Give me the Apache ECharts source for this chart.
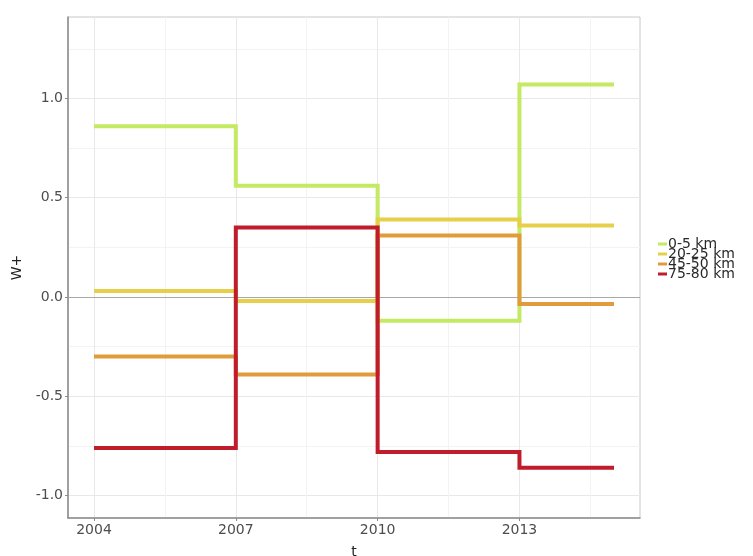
<!DOCTYPE html>
<html>
<head>
<meta charset="utf-8">
<script src="https://cdn.jsdelivr.net/npm/echarts@6/dist/echarts.min.js"></script>
<style>
html,body{margin:0;padding:0;background:#fff;}
#chart{width:753px;height:556px;}
</style>
</head>
<body>
<div id="chart"></div>
<script>
// ---- data ----
var years = [2004, 2007, 2010, 2013, 2015];
var seriesNames = ['0-5 km', '20-25 km', '45-50 km', '75-80 km'];
var km0_5   = [0.86, 0.56, -0.12, 1.07, 1.07];
var km20_25 = [0.03, -0.02, 0.39, 0.36, 0.36];
var km45_50 = [-0.30, -0.39, 0.31, -0.035, -0.035];
var km75_80 = [-0.76, 0.35, -0.78, -0.86, -0.86];
var xTicks = [2004, 2007, 2010, 2013];
var xMinor = [2005.5, 2008.5, 2011.5, 2014.5];
var yTicks = [-1.0, -0.5, 0.0, 0.5, 1.0];
var yMinor = [-0.75, -0.25, 0.25, 0.75, 1.25];
var colors = ['#c3ea62', '#e6d04a', '#e09c3c', '#c01d2c'];

var allValues = [km0_5, km20_25, km45_50, km75_80];

function pairs(vals) {
  return years.map(function (y, i) { return [y, vals[i]]; });
}

var chart = echarts.init(document.getElementById('chart'), null, {renderer: 'canvas'});
var font = 'DejaVu Sans';
var xMin = 2003.45, xMax = 2015.55, yMin = -1.113, yMax = 1.41;

var series = allValues.map(function (vals, i) {
  return {
    name: seriesNames[i],
    type: 'line',
    step: 'end',
    data: pairs(vals),
    showSymbol: false,
    symbol: 'none',
    lineStyle: {color: colors[i], width: 4, cap: 'butt', join: 'miter'},
    itemStyle: {color: colors[i]},
    z: 3 + i,
    silent: true
  };
});
// zero reference line
series.unshift({
  type: 'line',
  data: [],
  silent: true,
  z: 2,
  markLine: {
    silent: true,
    symbol: 'none',
    label: {show: false},
    lineStyle: {color: '#a8a8a8', width: 1, type: 'solid'},
    data: [{yAxis: 0}]
  }
});

chart.setOption({
  animation: false,
  backgroundColor: '#fff',
  grid: {left: 68, top: 17, width: 572, height: 501, containLabel: false,
         outerBoundsMode: 'none',
         show: true, borderColor: '#c8c8c8', borderWidth: 1},
  legend: {
    orient: 'vertical',
    left: 658, top: 237,
    itemWidth: 9, itemHeight: 3, itemGap: -4,
    icon: 'rect',
    data: seriesNames,
    textStyle: {fontFamily: font, fontSize: 14, color: '#2a2a2a', lineHeight: 12, padding: [0, 0, 0, -4]},
    padding: 0
  },
  xAxis: [{
    type: 'value', min: xMin, max: xMax,
    name: 't', nameLocation: 'middle', nameGap: 27,
    nameTextStyle: {fontFamily: font, fontSize: 14, color: '#222'},
    axisLine: {show: true, onZero: false, lineStyle: {color: '#8a8a8a', width: 1.5}},
    axisTick: {show: true, length: 3, customValues: xTicks, lineStyle: {color: '#8a8a8a'}},
    axisLabel: {customValues: xTicks, fontFamily: font, fontSize: 14, color: '#4d4d4d', margin: 5,
                formatter: function (v) { return String(v); }},
    splitLine: {show: true, lineStyle: {color: '#e8e8e8', width: 1}}
  }, {
    type: 'value', min: xMin, max: xMax, position: 'bottom',
    axisLine: {show: false}, axisLabel: {show: false},
    axisTick: {show: false, customValues: xMinor},
    splitLine: {show: true, lineStyle: {color: '#f3f3f3', width: 1}}
  }],
  yAxis: [{
    type: 'value', min: yMin, max: yMax,
    name: 'W+', nameLocation: 'middle', nameGap: 44, nameRotate: 90,
    nameTextStyle: {fontFamily: font, fontSize: 14, color: '#222'},
    axisLine: {show: true, onZero: false, lineStyle: {color: '#8a8a8a', width: 1.5}},
    axisTick: {show: true, length: 3, customValues: yTicks, lineStyle: {color: '#8a8a8a'}},
    axisLabel: {customValues: yTicks, fontFamily: font, fontSize: 14, color: '#4d4d4d', margin: 5,
                formatter: function (v) { return v.toFixed(1); }},
    splitLine: {show: true, lineStyle: {color: '#e8e8e8', width: 1}}
  }, {
    type: 'value', min: yMin, max: yMax, position: 'left',
    axisLine: {show: false}, axisLabel: {show: false},
    axisTick: {show: false, customValues: yMinor},
    splitLine: {show: true, lineStyle: {color: '#f3f3f3', width: 1}}
  }],
  series: series
});
</script>
</body>
</html>
